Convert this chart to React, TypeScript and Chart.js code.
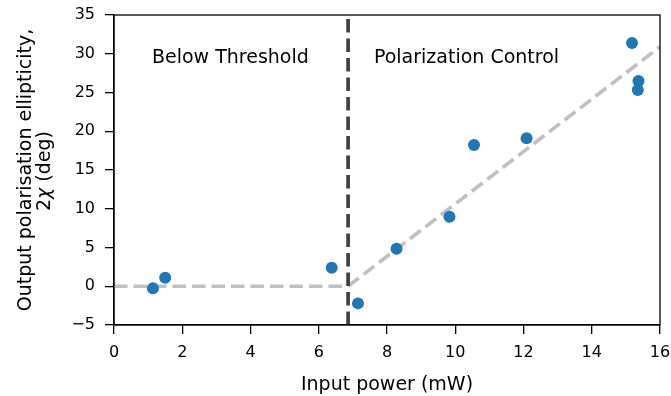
import { useEffect, useRef } from 'react';
import { Chart, registerables } from 'chart.js';

Chart.register(...registerables);

// ---- data ----
const powerMW = [1.14, 1.5, 6.38, 7.15, 8.28, 9.83, 10.55, 12.09, 15.18, 15.37, 15.35];
const ellipticityDeg = [-0.27, 1.1, 2.39, -2.21, 4.84, 8.96, 18.24, 19.1, 31.39, 26.49, 25.33];
const thresholdMW = 6.86;
const belowFitX = [0, 6.86];
const belowFitY = [0, 0];
const aboveFitX = [6.86, 16];
const aboveFitY = [0, 30.9];
const xRange = [0, 16];
const yRange = [-5, 35];
const regionLabels = ['Below Threshold', 'Polarization Control'];
const regionLabelX = [3.41, 10.33];
const regionLabelY = [28.85, 28.85];
const xTitle = 'Input power (mW)';
const yTitleLine1 = 'Output polarisation ellipticity,';

const FONT = '"DejaVu Sans", sans-serif';

const toPts = (xs: number[], ys: number[]) => xs.map((x, i) => ({ x, y: ys[i] }));

const decorPlugin = {
  id: 'decor',
  afterDraw(chart: any) {
    const { ctx, chartArea, scales } = chart;
    const { left, right, top, bottom } = chartArea;
    ctx.save();
    // box
    ctx.strokeStyle = '#000';
    ctx.lineWidth = 1.3;
    ctx.strokeRect(left, top, right - left, bottom - top);
    // region labels
    ctx.fillStyle = '#000';
    ctx.font = `19px ${FONT}`;
    ctx.textAlign = 'center';
    ctx.textBaseline = 'alphabetic';
    regionLabels.forEach((t, i) => {
      ctx.fillText(t, scales.x.getPixelForValue(regionLabelX[i]), scales.y.getPixelForValue(regionLabelY[i]));
    });
    // x title
    ctx.fillText(xTitle, (left + right) / 2, 390);
    // y title line 1
    const cy = (top + bottom) / 2;
    ctx.save();
    ctx.translate(30.5, cy);
    ctx.rotate(-Math.PI / 2);
    ctx.fillText(yTitleLine1, 0, 0);
    ctx.restore();
    // y title line 2 : 2χ (deg) with italic χ
    ctx.save();
    ctx.translate(50, cy + 1);
    ctx.rotate(-Math.PI / 2);
    ctx.textAlign = 'left';
    const upright = `19px ${FONT}`;
    const italic = `italic 19px ${FONT}`;
    const parts: [string, string][] = [['2', upright], ['\u03C7', italic], [' (deg)', upright]];
    let total = 0;
    parts.forEach(([s, f]) => { ctx.font = f; total += ctx.measureText(s).width; });
    let x = -total / 2;
    parts.forEach(([s, f]) => { ctx.font = f; ctx.fillText(s, x, 0); x += ctx.measureText(s).width; });
    ctx.restore();
    ctx.restore();
  },
};

export default function App() {
  const ref = useRef<HTMLCanvasElement>(null);
  useEffect(() => {
    document.body.style.margin = '0';
    const canvas = ref.current!;
    const lineStyle = { showLine: true, pointRadius: 0, borderWidth: 3.7, borderDash: [13.5, 6], fill: false, tension: 0 };
    const chart = new Chart(canvas, {
      type: 'scatter',
      data: {
        datasets: [
          {
            data: toPts(powerMW, ellipticityDeg),
            backgroundColor: '#1f77b4',
            borderColor: '#1f77b4',
            pointRadius: 6,
            pointBorderWidth: 0,
            order: 0,
          },
          { data: toPts(belowFitX, belowFitY), borderColor: '#c0c0c0', order: 2, ...lineStyle },
          { data: toPts(aboveFitX, aboveFitY), borderColor: '#c0c0c0', order: 2, ...lineStyle },
          {
            data: toPts([thresholdMW, thresholdMW], yRange),
            borderColor: '#404040',
            order: 1,
            ...lineStyle,
          },
        ] as any,
      },
      options: {
        animation: false,
        responsive: false,
        devicePixelRatio: 1,
        layout: { padding: { top: 15, right: 11, left: 0, bottom: 0 } },
        plugins: { legend: { display: false }, tooltip: { enabled: false } },
        scales: {
          x: {
            type: 'linear',
            min: xRange[0],
            max: xRange[1],
            afterFit: (s: any) => { s.height = 71; s.paddingLeft = 0; s.paddingRight = 0; },
            border: { display: true, color: '#000', width: 1.3 },
            grid: { display: true, drawOnChartArea: false, drawTicks: true, tickLength: 9, color: '#000', lineWidth: 1.3 },
            ticks: { stepSize: 2, color: '#000', font: { family: FONT, size: 16 }, padding: 9, maxRotation: 0 },
          },
          y: {
            type: 'linear',
            min: yRange[0],
            max: yRange[1],
            afterFit: (s: any) => { s.width = 114; s.paddingTop = 0; s.paddingBottom = 0; },
            border: { display: true, color: '#000', width: 1.3 },
            grid: { display: true, drawOnChartArea: false, drawTicks: true, tickLength: 9, color: '#000', lineWidth: 1.3 },
            ticks: {
              stepSize: 5,
              color: '#000',
              font: { family: FONT, size: 16 },
              padding: 10,
              callback: (v: any) => (Number(v) < 0 ? '\u2212' + Math.abs(Number(v)) : String(v)),
            },
          },
        },
      },
      plugins: [decorPlugin],
    });
    return () => chart.destroy();
  }, []);
  return (
    <div style={{ width: 671, height: 396 }}>
      <canvas ref={ref} width={671} height={396} style={{ display: 'block' }} />
    </div>
  );
}
